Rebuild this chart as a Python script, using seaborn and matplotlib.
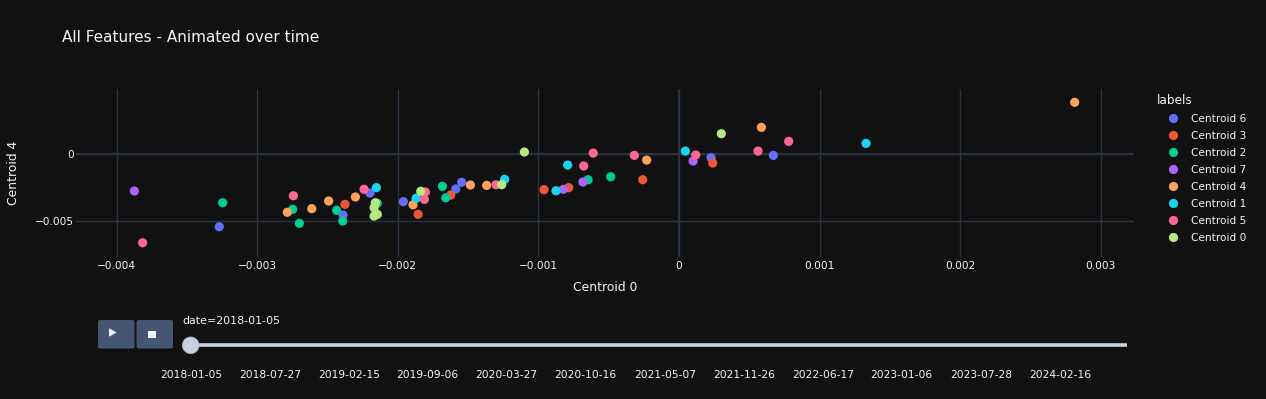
import matplotlib
matplotlib.use("Agg")
import matplotlib.pyplot as plt
import matplotlib.ticker as mticker
from matplotlib.patches import FancyBboxPatch, Circle, Polygon, Rectangle
import numpy as np
import pandas as pd
import seaborn as sns

# legend order as in the figure
labels = ["Centroid 6", "Centroid 3", "Centroid 2", "Centroid 7",
          "Centroid 4", "Centroid 1", "Centroid 5", "Centroid 0"]
colors = ["#636efa", "#EF553B", "#00cc96", "#ab63fa",
          "#FFA15A", "#19d3f3", "#FF6692", "#B6E880"]

c6_x = [-0.00327, -0.00239, -0.002198, -0.001961, -0.001588, -0.001546, 0.000228, 0.000671]
c6_y = [-0.0054, -0.00453, -0.0029, -0.00354, -0.0026, -0.0021, -0.00027, -0.0001]
c3_x = [-0.002376, -0.001856, -0.001624, -0.00096, -0.000785, -0.000258, 0.00024]
c3_y = [-0.00374, -0.00448, -0.00305, -0.00265, -0.0025, -0.00191, -0.00067]
c2_x = [-0.003246, -0.002748, -0.0027, -0.002435, -0.002392, -0.002146, -0.001683, -0.001659, -0.000647, -0.000486]
c2_y = [-0.00362, -0.00411, -0.00515, -0.00418, -0.00498, -0.00366, -0.0024, -0.00325, -0.00191, -0.00169]
c7_x = [-0.003874, -0.000823, -0.000683, 0.0001]
c7_y = [-0.00275, -0.00262, -0.00208, -0.00052]
c4_x = [-0.002786, -0.002612, -0.002492, -0.002302, -0.001892, -0.001484, -0.001368, -0.00023, 0.000586, 0.002814]
c4_y = [-0.00433, -0.00406, -0.00349, -0.00319, -0.00377, -0.0023, -0.00233, -0.00045, 0.00198, 0.00384]
c1_x = [-0.002153, -0.00187, -0.00124, -0.000875, -0.000792, 0.000045, 0.00133]
c1_y = [-0.0025, -0.00329, -0.00188, -0.00273, -0.00082, 0.00022, 0.00079]
c5_x = [-0.003815, -0.002743, -0.00224, -0.001804, -0.001811, -0.001302, -0.000678, -0.00061, -0.000318, 0.000119, 0.000562, 0.00078]
c5_y = [-0.00659, -0.0031, -0.00262, -0.00282, -0.00337, -0.00228, -0.00089, 0.00007, -0.0001, -0.00007, 0.00022, 0.00094]
c0_x = [-0.00216, -0.002169, -0.002169, -0.002146, -0.001837, -0.001261, -0.0011, 0.000301]
c0_y = [-0.00362, -0.00399, -0.00461, -0.00448, -0.00277, -0.00228, 0.00015, 0.00151]

slider_dates = ["2018-01-05", "2018-07-27", "2019-02-15", "2019-09-06", "2020-03-27", "2020-10-16",
                "2021-05-07", "2021-11-26", "2022-06-17", "2023-01-06", "2023-07-28", "2024-02-16"]
current_date = "2018-01-05"

xs = [c6_x, c3_x, c2_x, c7_x, c4_x, c1_x, c5_x, c0_x]
ys = [c6_y, c3_y, c2_y, c7_y, c4_y, c1_y, c5_y, c0_y]
df = pd.concat([pd.DataFrame({"x": x, "y": y, "labels": lab}) for x, y, lab in zip(xs, ys, labels)],
               ignore_index=True)

BG = "#111111"
GRID = "#283442"
TXT = "#f2f5fa"

sns.set_theme(style="dark", rc={
    "figure.facecolor": BG, "axes.facecolor": BG, "axes.edgecolor": BG,
    "text.color": TXT, "axes.labelcolor": TXT, "xtick.color": TXT, "ytick.color": TXT,
})
plt.rcParams["font.family"] = ["DejaVu Sans"]

W, H = 1266, 399
L, R, T, B = 76, 1134, 89, 257
fig = plt.figure(figsize=(W / 100, H / 100), dpi=100)
ax = fig.add_axes([L / W, 1 - B / H, (R - L) / W, (B - T) / H])

ax.set_xlim(-0.004289, 0.003236)
ax.set_ylim(-0.00765, 0.00483)
ax.xaxis.set_major_locator(mticker.MultipleLocator(0.001))
ax.yaxis.set_major_locator(mticker.FixedLocator([-0.005, 0]))
fmt = mticker.FuncFormatter(lambda v, p: ("%g" % round(v, 6)).replace("-", "\u2212"))
ax.xaxis.set_major_formatter(fmt)
ax.yaxis.set_major_formatter(fmt)
ax.grid(True, color=GRID, lw=1, zorder=0)
ax.axhline(0, color=GRID, lw=1.5, zorder=0.5)
ax.axvline(0, color=GRID, lw=1.5, zorder=0.5)
for s in ax.spines.values():
    s.set_visible(False)
ax.tick_params(axis="both", length=0, labelsize=7.6, colors=TXT)
ax.tick_params(axis="x", pad=3)
ax.tick_params(axis="y", pad=1.5)

sns.scatterplot(data=df, x="x", y="y", hue="labels", hue_order=labels,
                palette=dict(zip(labels, colors)), s=44, linewidth=0, ax=ax, zorder=3)
ax.set_xlabel("Centroid 0", fontsize=8.9)
ax.set_ylabel("Centroid 4", fontsize=8.9)
ax.xaxis.set_label_coords(0.5, (B - 281) / (B - T))
ax.yaxis.set_label_coords((20 - L) / (R - L), 0.5)

leg = ax.legend(title="labels", frameon=False, loc="upper left",
                bbox_to_anchor=(1152.5 / W, 1 - 90 / H), bbox_transform=fig.transFigure,
                fontsize=7.6, title_fontsize=8.7, labelspacing=0.66, handletextpad=0.24,
                handlelength=3.0, markerscale=1.0, borderaxespad=0)
leg._legend_box.align = "left"
for t in leg.get_texts():
    t.set_color(TXT)
leg.get_title().set_color(TXT)

fig.text(62 / W, 1 - 38 / H, "All Features - Animated over time", fontsize=11,
         color=TXT, va="center", ha="left")

# animation controls (slider + buttons), drawn in pixel coordinates
ui = fig.add_axes([0, 0, 1, 1])
ui.set_xlim(0, W)
ui.set_ylim(H, 0)
ui.axis("off")
ui.patch.set_alpha(0)
btn = "#455672"
ui.add_patch(FancyBboxPatch((98, 320), 36.5, 28.5, boxstyle="round,pad=0,rounding_size=2",
                            fc=btn, ec="none"))
ui.add_patch(FancyBboxPatch((136.5, 320), 36.5, 28.5, boxstyle="round,pad=0,rounding_size=2",
                            fc=btn, ec="none"))
ui.add_patch(Polygon([[109, 328.3], [109, 336.7], [116.7, 332.5]], closed=True, fc="#eef1f6", ec="none"))
ui.add_patch(Rectangle((148.3, 330.7), 7.4, 7.3, fc="#eef1f6", ec="none"))
ui.text(182, 321.5, "date=" + current_date, fontsize=7.9, color=TXT, va="center", ha="left")

track_l, track_r, track_y = 190.7, 1127, 345.3
ui.plot([track_l, track_r], [track_y, track_y], color="#c5d0e0", lw=2.6, solid_capstyle="butt")
step = 79
for i, d in enumerate(slider_dates):
    ui.text(track_l + i * step, 375, d, fontsize=7.7, color=TXT, ha="center", va="center")
knob_x = track_l + slider_dates.index(current_date) * step
ui.add_patch(Circle((knob_x, track_y), 8.3, fc="#c6d0de", ec="#a8b4c6", lw=0.6, zorder=5))

fig.savefig("out.png", dpi=100, facecolor=BG)
